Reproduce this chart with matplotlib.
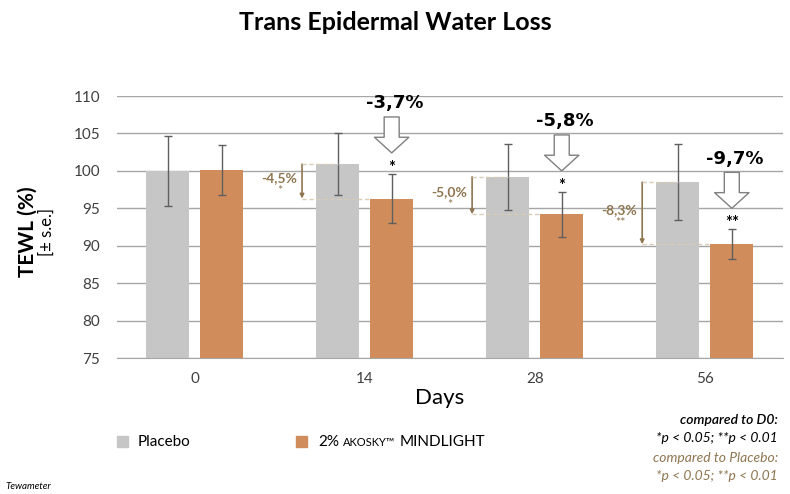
import numpy as np
import matplotlib.pyplot as plt

# values
days = ["0", "14", "28", "56"]
placebo = [100.0, 100.9, 99.2, 98.5]
placebo_se = [4.7, 4.1, 4.4, 5.1]
mindlight = [100.1, 96.3, 94.2, 90.2]
mindlight_se = [3.3, 3.3, 3.0, 2.0]
d0_change = ["", "-3,7%", "-5,8%", "-9,7%"]
d0_stars = ["", "*", "*", "**"]
pl_change = ["", "-4,5%", "-5,0%", "-8,3%"]
pl_stars = ["", "*", "*", "**"]

gray = "#c6c6c6"
orange = "#d18c5b"
brown = "#8f7650"

plt.rcParams['font.family'] = ['Lato', 'DejaVu Sans']

fig = plt.figure(figsize=(7.9, 4.94), dpi=100)
ax = fig.add_axes([117 / 790, 1 - 358 / 494, (783 - 117) / 790, (358 - 96) / 494])

x = np.arange(len(days))
w = 0.253
off = 0.159
ax.bar(x - off, np.array(placebo) - 75, w, bottom=75, color=gray, zorder=2)
ax.bar(x + off, np.array(mindlight) - 75, w, bottom=75, color=orange, zorder=2)
ax.errorbar(x - off, placebo, yerr=placebo_se, fmt='none', ecolor='#5f5f5f',
            elinewidth=1, capsize=3, zorder=3)
ax.errorbar(x + off, mindlight, yerr=mindlight_se, fmt='none', ecolor='#5f5f5f',
            elinewidth=1, capsize=3, zorder=3)

ax.set_ylim(75, 110)
ax.set_xlim(-0.456, 3.46)
ax.set_yticks(np.arange(75, 111, 5))
ax.set_xticks(x)
ax.set_xticklabels(days)
ax.grid(axis='y', color='#a6a6a6', linewidth=1, zorder=0)
ax.tick_params(axis='y', length=0, pad=12, labelsize=11, labelcolor='#404040')
ax.tick_params(axis='x', length=0, pad=10, labelsize=11, labelcolor='#404040')
for s in ['top', 'right', 'left']:
    ax.spines[s].set_visible(False)
ax.spines['bottom'].set_color('#a6a6a6')
ax.set_axisbelow(True)

# comparison to D0: hollow arrows above the treated bars
for i in range(1, 4):
    xo = x[i] + off
    top = mindlight[i] + mindlight_se[i]
    ax.text(xo, top + 0.8, d0_stars[i], ha='center', va='center', fontsize=12, fontweight='bold')
    ax.annotate('', xy=(xo, top + 2.8), xytext=(xo, top + 7.6),
                arrowprops=dict(arrowstyle='simple,head_length=0.75,head_width=1.65,tail_width=0.72',
                                fc='white', ec='#808080', lw=1, mutation_scale=15,
                                shrinkA=0, shrinkB=0), zorder=4)
    ax.text(xo + 0.02, top + 9.4, d0_change[i], ha='center', va='center',
            fontsize=13, fontweight='bold', family='DejaVu Sans')

# comparison to placebo: brown brackets
for i in range(1, 4):
    xa = x[i] - 0.368
    p, m = placebo[i], mindlight[i]
    ax.annotate('', xy=(xa, m), xytext=(xa, p),
                arrowprops=dict(arrowstyle='-|>', color=brown, lw=1.2, mutation_scale=6,
                                shrinkA=0, shrinkB=0), zorder=4)
    ax.plot([xa, x[i] - off], [p, p], ls=(0, (3, 2)), color='#d9cbb5', lw=1, zorder=4)
    ax.plot([xa, x[i] + off - w / 2], [m, m], ls=(0, (3, 2)), color='#d9cbb5', lw=1, zorder=4)
    ax.text(xa - 0.03, (p + m) / 2 + 0.4, pl_change[i], ha='right', va='center',
            fontsize=10, fontweight='bold', color=brown)
    ax.text(xa - 0.13, (p + m) / 2 - 1.3, pl_stars[i], ha='center', va='center',
            fontsize=9, color=brown)

fig.text(0.5, 1 - 22 / 494, "Trans Epidermal Water Loss", ha='center', va='center',
         fontsize=18, fontweight='bold')
fig.text(28 / 790, 1 - 232 / 494, "TEWL (%)", rotation=90, ha='center', va='center',
         fontsize=15, fontweight='bold')
fig.text(47 / 790, 1 - 232 / 494, "[± s.e.]", rotation=90, ha='center', va='center',
         fontsize=12)
fig.text(440 / 790, 1 - 398 / 494, "Days", ha='center', va='center', fontsize=16)

# legend
fig.patches.append(plt.Rectangle((117 / 790, 1 - 447 / 494), 11 / 790, 11 / 494,
                                 transform=fig.transFigure, color=gray))
fig.text(138 / 790, 1 - 442 / 494, "Placebo", va='center', fontsize=11)
fig.patches.append(plt.Rectangle((296 / 790, 1 - 447 / 494), 11 / 790, 11 / 494,
                                 transform=fig.transFigure, color=orange))
fig.text(318 / 790, 1 - 442 / 494, "2%", va='center', fontsize=11)
fig.text(343 / 790, 1 - 442 / 494, "AKOSKY™", va='center', fontsize=8)
fig.text(400 / 790, 1 - 442 / 494, "MINDLIGHT", va='center', fontsize=11)

# notes
fig.text(778 / 790, 1 - 420 / 494, "compared to D0:", ha='right', va='center',
         fontsize=10, style='italic', fontweight='semibold')
fig.text(778 / 790, 1 - 438 / 494, "*p < 0.05; **p < 0.01", ha='right', va='center',
         fontsize=10, style='italic')
fig.text(778 / 790, 1 - 458 / 494, "compared to Placebo:", ha='right', va='center',
         fontsize=10, style='italic', color=brown)
fig.text(778 / 790, 1 - 476 / 494, "*p < 0.05; **p < 0.01", ha='right', va='center',
         fontsize=10, style='italic', color=brown)
fig.text(5 / 790, 1 - 486 / 494, "Tewameter", va='center', fontsize=7, style='italic')

fig.savefig("out.png", dpi=100)
